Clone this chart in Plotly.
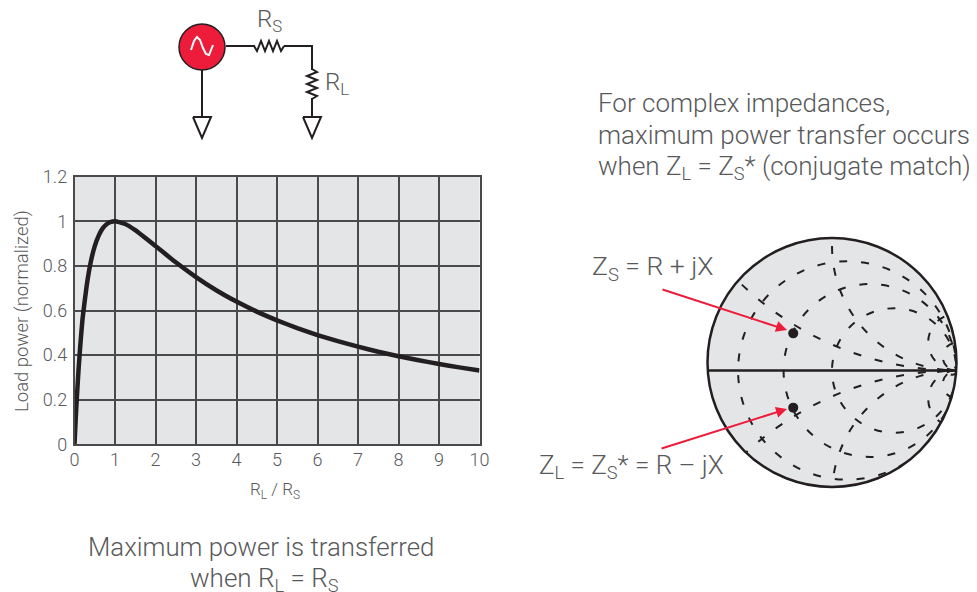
import plotly.graph_objects as go

W, H = 977, 592
PAGE_MARGIN = 8  # the page body pushes the figure in by this much
GREY = '#58595b'
DARK = '#231f20'
GRID = '#4a4a4c'
RED = '#ed1c3a'
PANEL = '#e4e5e7'
FONT = 'Roboto'

# load power curve
ratio = [0, 0.03, 0.06, 0.1, 0.15, 0.2, 0.3, 0.4, 0.5, 0.6, 0.7, 0.8, 0.9, 1,
         1.25, 1.5, 2, 2.5, 3, 3.5, 4, 4.5, 5, 5.5, 6, 6.5, 7, 7.5, 8, 8.5, 9, 9.5, 10]
power = [0, 0.115, 0.215, 0.335, 0.46, 0.565, 0.71, 0.816, 0.889, 0.937, 0.969, 0.988, 0.997, 1,
         0.988, 0.96, 0.889, 0.816, 0.75, 0.691, 0.64, 0.595, 0.556, 0.521, 0.49, 0.463,
         0.438, 0.415, 0.395, 0.377, 0.36, 0.345, 0.331]
x_ticks = list(range(0, 11))
y_ticks = [0, 0.2, 0.4, 0.6, 0.8, 1, 1.2]
y_labels = ['0', '0.2', '0.4', '0.6', '0.8', '1', '1.2']

# smith chart grid and the two impedance points
smith_r_ticks = [0.14, 0.44, 1, 28]
smith_x_ticks = [-9, -4.4, -1, -0.4, 0.4, 1, 4.4, 9]
z_real = [0.45, 0.45]
z_imag = [0.33, -0.33]

# schematic outlines, in page pixels
wire_lines = [
    [(226, 46), (255, 46)],
    [(284, 46), (312, 46), (312, 70)],
    [(312, 98), (312, 116)],
    [(202, 70), (202, 116)],
]
resistor_lines = [
    [(254, 46), (257, 51), (261, 41), (265, 51), (269, 41), (273, 51), (277, 41), (281, 51), (284, 46)],
    [(312, 69), (317, 72), (307, 76), (317, 80), (307, 84), (317, 88), (307, 92), (317, 96), (312, 99)],
]
ground_lines = [
    [(193, 117), (211, 117), (202, 138), (193, 117)],
    [(303, 117), (321, 117), (312, 138), (303, 117)],
]
sine_line = [(191, 50), (194, 41), (197, 37), (200, 40), (203, 48), (206, 54), (209, 55), (213, 45)]


def px(x):
    return (x - PAGE_MARGIN) / W


def py(y):
    return 1 - (y - PAGE_MARGIN) / H


def polyline(points):
    return 'M ' + ' L '.join(f'{px(x):.5f} {py(y):.5f}' for x, y in points)


def page_circle(x0, y0, x1, y1, **kw):
    return dict(type='circle', xref='paper', yref='paper',
                x0=px(x0), y0=py(y0), x1=px(x1), y1=py(y1), **kw)


def label(text, x, y, size, anchor='left'):
    return dict(text=text, x=px(x), y=py(y), xref='paper', yref='paper',
                xanchor=anchor, yanchor='middle', showarrow=False, align=anchor,
                font=dict(family=FONT, size=size, color=GREY, weight=300))


def arrow(x0, y0, x1, y1):
    return dict(x=px(x1), y=py(y1), ax=x0 - x1, ay=y0 - y1,
                xref='paper', yref='paper', text='', showarrow=True,
                arrowhead=2, arrowsize=1.1, arrowwidth=2, arrowcolor=RED)


fig = go.Figure()
fig.add_scatter(x=ratio, y=power, mode='lines', showlegend=False,
                line=dict(color=DARK, width=4.5, shape='spline', smoothing=0.4))
fig.add_scattersmith(real=z_real, imag=z_imag, mode='markers', showlegend=False,
                     marker=dict(color=DARK, size=10))

shapes = [
    # smith panel goes under the grid, the ring hides grid overflow below the outline
    page_circle(707.5, 238, 956.5, 487, fillcolor=PANEL, line=dict(width=0), layer='below'),
    page_circle(700.5, 231, 963.5, 494, line=dict(color='white', width=14)),
    page_circle(707.5, 238, 956.5, 487, line=dict(color=DARK, width=2.5)),
]
for line in wire_lines + resistor_lines + ground_lines:
    shapes.append(dict(type='path', path=polyline(line), xref='paper', yref='paper',
                       line=dict(color=DARK, width=2)))
shapes.append(page_circle(179, 24, 225, 70, fillcolor=RED, line=dict(color=DARK, width=1.5)))
shapes.append(dict(type='path', path=polyline(sine_line), xref='paper', yref='paper',
                   line=dict(color='white', width=2)))

annotations = [
    label('R<sub>S</sub>', 255, 21, 24),
    label('R<sub>L</sub>', 323, 83, 24),
    label('For complex impedances,', 596, 103, 26),
    label('maximum power transfer occurs', 596, 135, 26),
    label('when Z<sub>L</sub> = Z<sub>S</sub>* (conjugate match)', 596, 167, 26),
    label('Z<sub>S</sub> = R + jX', 590, 268, 26.5),
    label('Z<sub>L</sub> = Z<sub>S</sub>* = R \u2013 jX', 537, 466, 26),
    label('Maximum power is transferred', 260.5, 547, 25.8, 'center'),
    label('when R<sub>L</sub> = R<sub>S</sub>', 264, 579, 26, 'center'),
    label('R<sub>L</sub> / R<sub>S</sub>', 274.5, 490, 17, 'center'),
    arrow(661, 289, 787, 330),
    arrow(660, 449, 787, 409),
    dict(text='Load power (normalized)', x=px(22), y=py(311), xref='paper', yref='paper',
         xanchor='center', yanchor='middle', textangle=-90, showarrow=False,
         font=dict(family=FONT, size=18.5, color=GREY, weight=300)),
]

fig.update_layout(
    width=W, height=H,
    margin=dict(l=0, r=0, t=0, b=0),
    paper_bgcolor='white',
    plot_bgcolor=PANEL,
    font=dict(family=FONT, color=GREY),
    showlegend=False,
    xaxis=dict(domain=[px(74.5), px(479.5)], range=[0, 10], tickvals=x_ticks,
               automargin=False, ticklabelstandoff=-2,
               showgrid=True, gridcolor=GRID, gridwidth=1.5, zeroline=False,
               showline=True, linecolor=GRID, linewidth=1.5, mirror=True,
               tickfont=dict(size=18, weight=300)),
    yaxis=dict(domain=[py(444.3), py(176.7)], range=[0, 1.2], tickvals=y_ticks,
               ticktext=y_labels, automargin=False, ticklabelstandoff=2,
               showgrid=True, gridcolor=GRID, gridwidth=1.5, zeroline=False,
               showline=True, linecolor=GRID, linewidth=1.5, mirror=True,
               tickfont=dict(size=18, weight=300)),
    smith=dict(
        domain=dict(x=[px(707.5), px(956.5)], y=[py(495), py(246)]),
        bgcolor='rgba(0,0,0,0)',
        realaxis=dict(tickvals=smith_r_ticks, showticklabels=False, ticks='',
                      griddash='8px,14px', gridcolor=DARK, gridwidth=1.7,
                      linecolor=DARK, linewidth=2.5),
        imaginaryaxis=dict(tickvals=smith_x_ticks, showticklabels=False, ticks='',
                           griddash='8px,14px', gridcolor=DARK, gridwidth=1.7,
                           showline=False),
    ),
    shapes=shapes,
    annotations=annotations,
)

fig.write_html("out.html")
